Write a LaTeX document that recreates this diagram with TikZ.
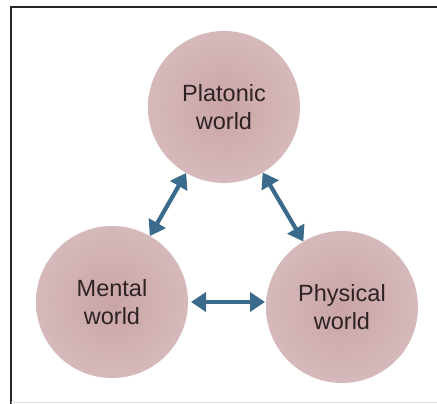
\documentclass[tikz,border=0pt]{standalone}
\usepackage{fontspec}
\setmainfont{Liberation Sans}
\usetikzlibrary{arrows.meta}
\definecolor{ballfill}{HTML}{C9A4A6}
\definecolor{ballrim}{HTML}{D6B9BB}
\definecolor{ink}{HTML}{2E2224}
\definecolor{arrowblue}{HTML}{3A6A8C}
\tikzset{
  world/.style={circle, minimum size=152pt, inner sep=0pt, outer sep=0pt,
    inner color=ballfill, outer color=ballrim,
    text=ink, align=center, font=\fontsize{23.5}{28}\selectfont},
  link/.style={arrowblue, line width=4.2pt,
    {Triangle[width=19pt,length=15pt]}-{Triangle[width=19pt,length=15pt]}}
}
\begin{document}
\begin{tikzpicture}[x=1pt,y=-1pt]
\useasboundingbox (0,0) rectangle (437,404);
\fill[white] (0,0) rectangle (437,404);
\draw[line width=2pt, black!85] (437,7) -- (11,7) -- (11,404);
\draw[line width=0.8pt, black!12] (11,402.5) -- (437,402.5);
\node[world] (P) at (224,107) {Platonic\\world};
\node[world] (M) at (112,302) {Mental\\world};
\node[world] (Ph) at (342,307) {Physical\\world};
\draw[link] (M) -- (P);
\draw[link] (P) -- (Ph);
\draw[link] ([xshift=3pt]M.east) -- ([xshift=-1pt]M.east -| Ph.west);
\end{tikzpicture}
\end{document}
